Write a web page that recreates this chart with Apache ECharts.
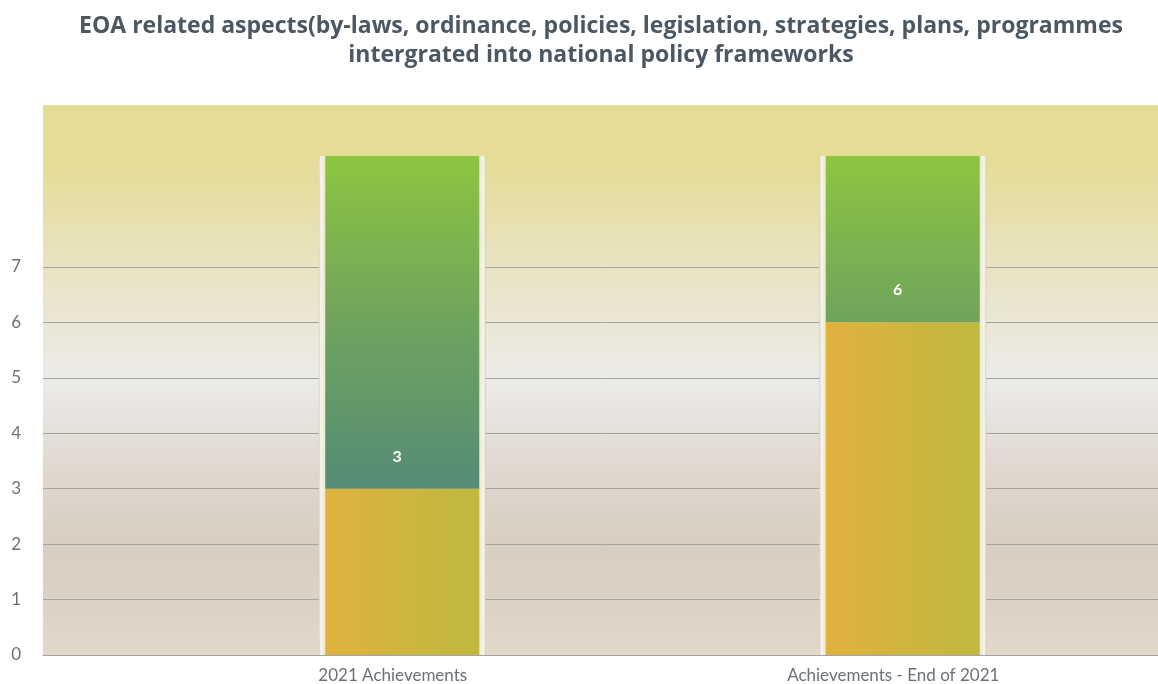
<!DOCTYPE html>
<html>
<head>
<meta charset="utf-8">
<script src="https://cdn.jsdelivr.net/npm/echarts@6/dist/echarts.min.js"></script>
<style>html,body{margin:0;padding:0;background:#fff}#c{width:1158px;height:684px}</style>
</head>
<body>
<div id="c"></div>
<script>
const titleText = 'EOA related aspects(by-laws, ordinance, policies, legislation, strategies, plans, programmes\nintergrated into national policy frameworks';
const categories = ['2021 Achievements', 'Achievements - End of 2021'];
const achieved = [3, 6];
const remaining = [6, 3];
const totals = [9, 9];
const yMax = 9.92;
const yLabelMax = 7;

const chart = echarts.init(document.getElementById('c'), null, {renderer: 'canvas'});
const gray = '#a3a3a0';
const fontFam = 'Lato, "Noto Sans", sans-serif';

const option = {
  animation: false,
  backgroundColor: '#ffffff',
  title: {
    text: titleText,
    left: 596,
    textAlign: 'center',
    top: 7,
    textStyle: {fontFamily: '"Open Sans", "Noto Sans", sans-serif', fontSize: 23, fontWeight: 'bold', color: '#4b5763', lineHeight: 29}
  },
  grid: [
    {left: 43, right: 0, top: 105, bottom: 29, show: true, borderWidth: 0,
     backgroundColor: new echarts.graphic.LinearGradient(0, 0, 0, 1, [
       {offset: 0, color: '#e5dc96'},
       {offset: 0.1, color: '#e5dc96'},
       {offset: 0.3, color: '#e9e3c3'},
       {offset: 0.5, color: '#ecebe9'},
       {offset: 0.6, color: '#e4dfd9'},
       {offset: 0.7, color: '#ddd5cb'},
       {offset: 0.8, color: '#d8cec1'},
       {offset: 0.9, color: '#dbd2c5'},
       {offset: 1, color: '#e2d9c9'}
     ])},
    {left: 152, right: 5, top: 105, bottom: 29}
  ],
  xAxis: [
    {type: 'category', gridIndex: 0, data: [''], axisTick: {show: false}, axisLabel: {show: false},
     axisLine: {show: true, lineStyle: {color: gray, width: 1}}},
    {type: 'category', gridIndex: 1, data: categories, axisTick: {show: false}, axisLine: {show: false},
     axisLabel: {color: '#6b7178', fontFamily: fontFam, fontSize: 17, margin: 12, padding: [0, 19, 0, 0]}},
    {type: 'category', gridIndex: 1, data: categories, show: false}
  ],
  yAxis: [
    {type: 'value', gridIndex: 0, min: 0, max: yMax, interval: 1,
     axisLine: {show: false}, axisTick: {show: false},
     axisLabel: {color: '#6b7178', fontFamily: fontFam, fontSize: 17, margin: 22,
       formatter: v => (v <= yLabelMax && Math.abs(v - Math.round(v)) < 1e-6) ? String(v) : ''},
     splitLine: {show: true, lineStyle: {width: 1, color: [gray, gray, gray, gray, gray, gray, gray, gray, 'rgba(0,0,0,0)', 'rgba(0,0,0,0)', 'rgba(0,0,0,0)', 'rgba(0,0,0,0)']}}},
    {type: 'value', gridIndex: 1, min: 0, max: yMax, interval: 1, show: false, splitLine: {show: false}}
  ],
  series: [
    {type: 'bar', xAxisIndex: 2, yAxisIndex: 1, data: totals, barWidth: 167, z: 1, silent: true,
     itemStyle: {color: new echarts.graphic.LinearGradient(0, 0, 1, 0, [
       {offset: 0, color: '#d2d0c6'},
       {offset: 0.012, color: '#f7f5ec'},
       {offset: 0.025, color: '#f2efdc'},
       {offset: 0.042, color: '#ece7c8'},
       {offset: 0.958, color: '#ece7c8'},
       {offset: 0.975, color: '#f2efdc'},
       {offset: 0.988, color: '#f7f5ec'},
       {offset: 1, color: '#d2d0c6'}
     ])}},
    {type: 'bar', xAxisIndex: 1, yAxisIndex: 1, stack: 'a', data: achieved, barWidth: 154, z: 2,
     itemStyle: {color: new echarts.graphic.LinearGradient(0, 0, 1, 0, [
       {offset: 0, color: '#e0b13f'},
       {offset: 1, color: '#bfb940'}
     ])}},
    {type: 'bar', xAxisIndex: 1, yAxisIndex: 1, stack: 'a', data: remaining, barWidth: 154, z: 2,
     itemStyle: {color: new echarts.graphic.LinearGradient(0, 158, 0, 488, [
       {offset: 0, color: '#8dc540'},
       {offset: 0.5, color: '#6fa35e'},
       {offset: 1, color: '#548c75'}
     ], true)},
     label: {show: true, position: 'insideBottom', distance: 24, offset: [-5, 0], color: '#ffffff', fontFamily: fontFam,
       fontSize: 16, fontWeight: 'bold', formatter: p => String(achieved[p.dataIndex])}}
  ]
};
chart.setOption(option);
</script>
</body>
</html>
